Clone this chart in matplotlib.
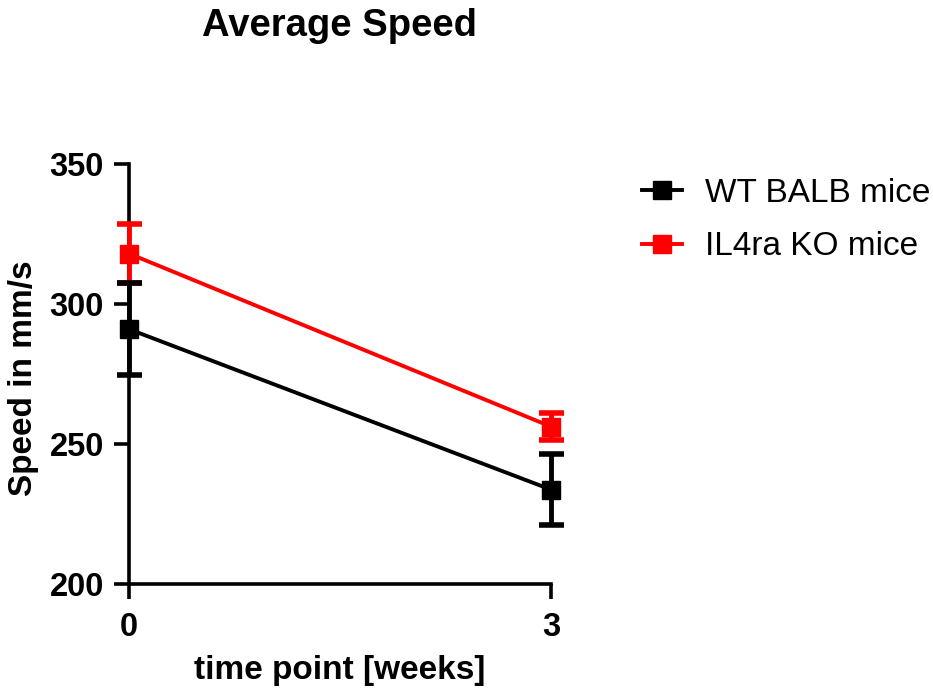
import numpy as np
import matplotlib
matplotlib.use('Agg')
import matplotlib.pyplot as plt
from matplotlib.lines import Line2D

plt.rcParams['font.family'] = ['Liberation Sans', 'DejaVu Sans']

# данные
weeks = [0, 3]
wt_mean = [291.0, 233.7]
wt_err = [16.5, 12.6]
ko_mean = [318.0, 256.2]
ko_err = [10.6, 4.7]
labels = ['WT BALB mice', 'IL4ra KO mice']

fig = plt.figure(figsize=(9.33, 6.89), dpi=100)
ax = fig.add_axes([0.1383, 0.1524, 0.4523, 0.6096])

# красную рисуем первой, чтобы чёрные усы были сверху
h_ko = ax.errorbar(weeks, ko_mean, yerr=ko_err, color='#ff0000', marker='s', markersize=13,
                   linewidth=2.8, elinewidth=3.5, capsize=9, capthick=4, clip_on=False, zorder=3)
h_wt = ax.errorbar(weeks, wt_mean, yerr=wt_err, color='black', marker='s', markersize=13,
                   linewidth=2.8, elinewidth=3.5, capsize=9, capthick=4, clip_on=False, zorder=4)
for h in (h_ko, h_wt):
    for art in h.lines[1] + h.lines[2]:
        art.set_clip_on(False)

ax.set_xlim(0, 3)
ax.set_ylim(200, 350)
ax.set_xticks(weeks)
ax.set_yticks([200, 250, 300, 350])
for s in ['top', 'right']:
    ax.spines[s].set_visible(False)
for s in ['left', 'bottom']:
    ax.spines[s].set_linewidth(2.6)
ax.tick_params(width=2.6, length=11, labelsize=23.5, pad=7)
ax.tick_params(axis='x', pad=9)
for lab in ax.get_xticklabels() + ax.get_yticklabels():
    lab.set_fontweight('bold')

ax.set_xlabel('time point [weeks]', fontsize=24, fontweight='bold', labelpad=9)
ax.set_ylabel('Speed in mm/s', fontsize=24, fontweight='bold', va='center')
ax.yaxis.set_label_coords(-0.249, 0.49)
fig.text(0.3644, 0.962, 'Average Speed', fontsize=27.5, fontweight='bold', ha='center', va='center')

handles = [Line2D([], [], color='black', marker='s', markersize=13, linewidth=2.8),
           Line2D([], [], color='#ff0000', marker='s', markersize=13, linewidth=2.8)]
leg = fig.legend(handles, labels, loc='upper left', bbox_to_anchor=(0.656, 0.785),
                 frameon=False, fontsize=24, handlelength=1.2, labelspacing=0.67, handletextpad=0.7)

fig.savefig('out.png', dpi=100)
